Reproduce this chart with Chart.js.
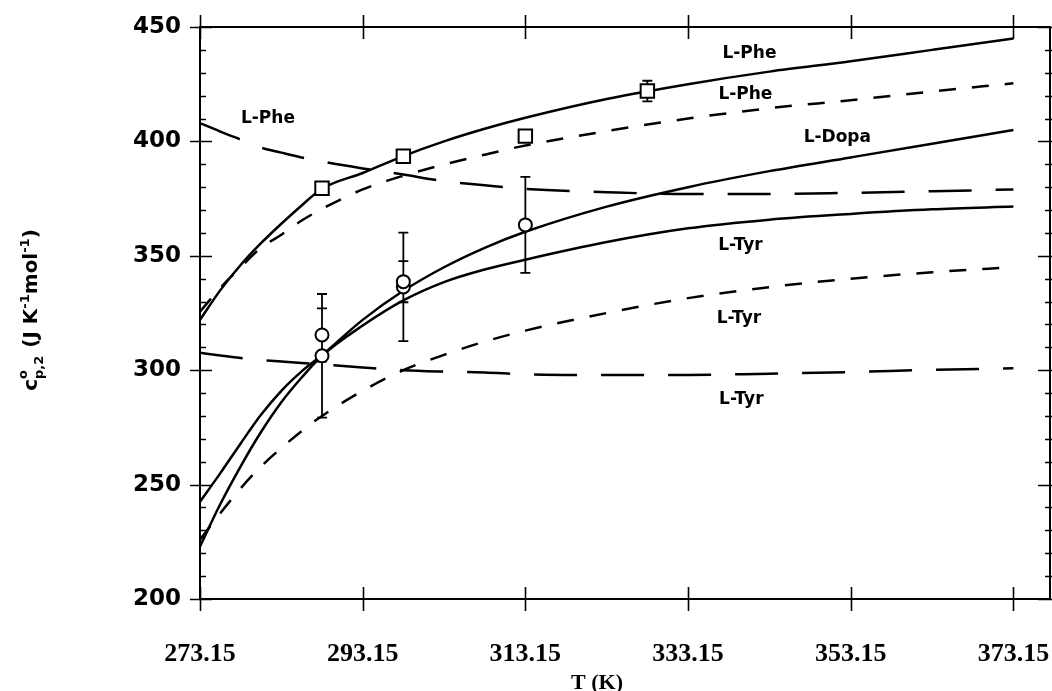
<!DOCTYPE html>
<html>
<head>
<meta charset="utf-8">
<script src="https://cdn.jsdelivr.net/npm/chart.js@4.4.1/dist/chart.umd.min.js"></script>
<style>
  html, body { margin: 0; padding: 0; background: #fff; }
  canvas { display: block; }
</style>
</head>
<body>
<canvas id="cp" width="1052" height="691"></canvas>
<script>
// Temperature grid (K) for the model curves
const temps = [273.15, 275.65, 278.15, 280.65, 283.15, 285.65, 288.15, 293.15, 298.15,
               303.15, 308.15, 313.15, 323.15, 333.15, 343.15, 353.15, 363.15, 373.15];

// Partial molar heat capacity curves, J K-1 mol-1
const pheSolid     = [322, 335, 346, 355.5, 364, 372, 379.3, 386.2, 393.6, 400, 405.5, 410.3, 418.5, 425, 430.5, 435, 440, 445];
const pheShortDash = [325.6, 336, 345, 353.5, 359.2, 365.4, 370.5, 379, 385, 389.9, 394.2, 398.2, 404.5, 410, 414.5, 418, 421.8, 425.4];
const pheLongDash  = [408, 404.3, 400.8, 397.3, 395.1, 393, 391.2, 388.2, 385.5, 382.6, 380.8, 379.2, 377.8, 377, 377, 377.5, 378.2, 379];
const dopaSolid    = [242.5, 255, 268, 280.5, 291, 299.5, 306.6, 322, 334.7, 345, 353.5, 360.5, 371.5, 380, 387, 393, 399, 405];
const tyrSolid     = [223, 241.5, 258, 273, 286, 296.8, 306.3, 319.5, 330.5, 338.5, 344, 348.3, 356, 362, 365.8, 368.3, 370.3, 371.5];
const tyrShortDash = [226, 237.5, 248.4, 257.9, 266, 273.4, 280, 291, 300, 306.7, 312.5, 317.3, 325, 331.5, 336.3, 340, 342.8, 345];
const tyrLongDash  = [307.6, 306.4, 305.3, 304.4, 303.8, 303.2, 302.5, 301.2, 300, 299.4, 299, 298.2, 297.9, 297.9, 298.5, 299.2, 300.2, 300.8];

// Measured points: squares (L-Phe)
const sqT   = [288.15, 298.15, 313.15, 328.15];
const sqCp  = [379.5, 393.5, 402.3, 422];
const sqErr = [0, 0, 0, 4.5];

// Measured points: circles
const circAT   = [288.15, 298.15, 313.15];
const circACp  = [315.4, 338.7, 363.5];
const circAErr = [11.6, 9, 21];
const circBT   = [288.15, 298.15];
const circBCp  = [306.3, 336.4];
const circBErr = [27, 23.7];

// Axis ticks
const xTickValues = [273.15, 293.15, 313.15, 333.15, 353.15, 373.15];
const yTickValues = [200, 250, 300, 350, 400, 450];

// Curve annotations
const labelTexts = ['L-Phe', 'L-Phe', 'L-Dopa', 'L-Phe', 'L-Tyr', 'L-Tyr', 'L-Tyr'];
const labelT     = [340.7, 340.2, 351.5, 281.5, 339.6, 339.4, 339.7];
const labelCp    = [438.6, 420.3, 401.5, 409.8, 354.3, 322.4, 287];

const INK = '#000';
const SHORT_DASH = [17, 16];
const LONG_DASH = [43, 24];

function curve(vals, dash) {
  return {
    data: temps.map((t, i) => ({ x: t, y: vals[i] })),
    borderColor: INK,
    borderWidth: 2.5,
    borderDash: dash,
    borderCapStyle: 'butt',
    pointRadius: 0,
    cubicInterpolationMode: 'monotone',
    fill: false
  };
}

function markers(ts, vals, style, radius) {
  return {
    data: ts.map((t, i) => ({ x: t, y: vals[i] })),
    showLine: false,
    pointStyle: style,
    pointRadius: radius,
    pointBorderColor: INK,
    pointBackgroundColor: '#fff',
    pointBorderWidth: 2
  };
}

// Error bars, axis frame and tick marks drawn under the data
const underlay = {
  id: 'underlay',
  beforeDatasetsDraw(chart) {
    const { ctx, chartArea: a, scales: { x, y } } = chart;
    ctx.save();
    ctx.strokeStyle = INK;

    // frame
    ctx.lineWidth = 2;
    ctx.beginPath();
    ctx.rect(a.left, a.top, a.right - a.left, a.bottom - a.top);
    ctx.stroke();

    // y ticks, both sides
    ctx.lineWidth = 1.6;
    ctx.beginPath();
    for (let v = 200; v <= 450; v += 10) {
      const py = Math.round(y.getPixelForValue(v)) + 0.5;
      const major = v % 50 === 0;
      ctx.moveTo(major ? a.left - 10 : a.left, py);
      ctx.lineTo(major ? a.left + 12 : a.left + 6, py);
      ctx.moveTo(major ? a.right - 12 : a.right - 5, py);
      ctx.lineTo(a.right + 2, py);
    }
    // x ticks, top and bottom
    xTickValues.forEach(v => {
      const px = Math.round(x.getPixelForValue(v)) + 0.5;
      ctx.moveTo(px, a.top - 12);
      ctx.lineTo(px, a.top + 12);
      ctx.moveTo(px, a.bottom - 12);
      ctx.lineTo(px, a.bottom + 12);
    });
    ctx.stroke();

    // error bars
    const bar = (t, v, e) => {
      if (!e) return;
      const px = x.getPixelForValue(t);
      const y1 = y.getPixelForValue(v - e);
      const y2 = y.getPixelForValue(v + e);
      ctx.moveTo(px, y1); ctx.lineTo(px, y2);
      ctx.moveTo(px - 5, y1); ctx.lineTo(px + 5, y1);
      ctx.moveTo(px - 5, y2); ctx.lineTo(px + 5, y2);
    };
    ctx.lineWidth = 1.8;
    ctx.beginPath();
    sqT.forEach((t, i) => bar(t, sqCp[i], sqErr[i]));
    circAT.forEach((t, i) => bar(t, circACp[i], circAErr[i]));
    circBT.forEach((t, i) => bar(t, circBCp[i], circBErr[i]));
    ctx.stroke();
    ctx.restore();
  }
};

// Curve names placed in data coordinates
const curveLabels = {
  id: 'curveLabels',
  afterDatasetsDraw(chart) {
    const { ctx, scales: { x, y } } = chart;
    ctx.save();
    ctx.fillStyle = INK;
    ctx.font = 'bold 17px "DejaVu Sans"';
    ctx.textAlign = 'center';
    ctx.textBaseline = 'middle';
    labelTexts.forEach((s, i) => {
      ctx.fillText(s, x.getPixelForValue(labelT[i]), y.getPixelForValue(labelCp[i]));
    });
    ctx.restore();
  }
};

// Axis titles (the y title carries sub- and superscripts)
const axisTitles = {
  id: 'axisTitles',
  afterDraw(chart) {
    const { ctx } = chart;
    ctx.save();
    ctx.fillStyle = INK;

    // x title
    ctx.font = 'bold 22px "Liberation Serif"';
    ctx.textAlign = 'center';
    ctx.textBaseline = 'middle';
    ctx.fillText('T (K)', 597, 683);

    // y title
    const big = 20, small = 13;
    const segs = [
      { t: 'c', s: big, dy: 0 },
      { stack: [{ t: 'o', s: small, dy: -10 }, { t: 'p,2', s: small, dy: 6 }] },
      { t: ' (J K', s: big, dy: 0 },
      { t: '-1', s: small, dy: -8 },
      { t: 'mol', s: big, dy: 0 },
      { t: '-1', s: small, dy: -8 },
      { t: ')', s: big, dy: 0 }
    ];
    const fontOf = s => 'bold ' + s + 'px "DejaVu Sans"';
    const w = seg => {
      if (seg.stack) {
        return Math.max(...seg.stack.map(p => { ctx.font = fontOf(p.s); return ctx.measureText(p.t).width; })) + 1;
      }
      ctx.font = fontOf(seg.s);
      return ctx.measureText(seg.t).width;
    };
    const total = segs.reduce((acc, seg) => acc + w(seg), 0);
    ctx.translate(30, 310);
    ctx.rotate(-Math.PI / 2);
    ctx.textAlign = 'left';
    ctx.textBaseline = 'alphabetic';
    let cx = -total / 2;
    const base = 7;
    segs.forEach(seg => {
      const ww = w(seg);
      if (seg.stack) {
        seg.stack.forEach(p => { ctx.font = fontOf(p.s); ctx.fillText(p.t, cx, base + p.dy); });
      } else {
        ctx.font = fontOf(seg.s);
        ctx.fillText(seg.t, cx, base + seg.dy);
      }
      cx += ww;
    });
    ctx.restore();
  }
};

new Chart(document.getElementById('cp'), {
  type: 'line',
  data: {
    datasets: [
      markers(sqT, sqCp, 'rect', 9.5),
      markers(circAT, circACp, 'circle', 6.5),
      markers(circBT, circBCp, 'circle', 6.5),
      curve(pheSolid, []),
      curve(pheShortDash, SHORT_DASH),
      curve(pheLongDash, LONG_DASH),
      curve(dopaSolid, []),
      curve(tyrSolid, []),
      curve(tyrShortDash, SHORT_DASH),
      curve(tyrLongDash, LONG_DASH)
    ]
  },
  options: {
    responsive: false,
    animation: false,
    devicePixelRatio: 1,
    layout: { autoPadding: false, padding: { top: 27, right: 2, left: 0, bottom: 0 } },
    plugins: { legend: { display: false }, tooltip: { enabled: false } },
    scales: {
      x: {
        type: 'linear',
        min: 273.15,
        max: 377.65,
        grid: { display: false, drawTicks: false },
        border: { display: false },
        afterBuildTicks: s => { s.ticks = xTickValues.map(v => ({ value: v })); },
        afterFit: s => { s.height = 92; s.paddingLeft = 0; s.paddingRight = 0; },
        ticks: {
          autoSkip: false,
          maxRotation: 0,
          minRotation: 0,
          padding: 40,
          color: INK,
          font: { family: 'Liberation Serif', weight: 'bold', size: 26 },
          callback: v => Number(v).toFixed(2)
        }
      },
      y: {
        min: 200,
        max: 450,
        grid: { display: false, drawTicks: false },
        border: { display: false },
        afterBuildTicks: s => { s.ticks = yTickValues.map(v => ({ value: v })); },
        afterFit: s => { s.width = 200; s.paddingTop = 0; s.paddingBottom = 0; },
        ticks: {
          padding: 19,
          color: INK,
          font: { family: 'DejaVu Sans', weight: 'bold', size: 23 },
          callback: v => String(v)
        }
      }
    }
  },
  plugins: [underlay, curveLabels, axisTitles]
});
</script>
</body>
</html>
